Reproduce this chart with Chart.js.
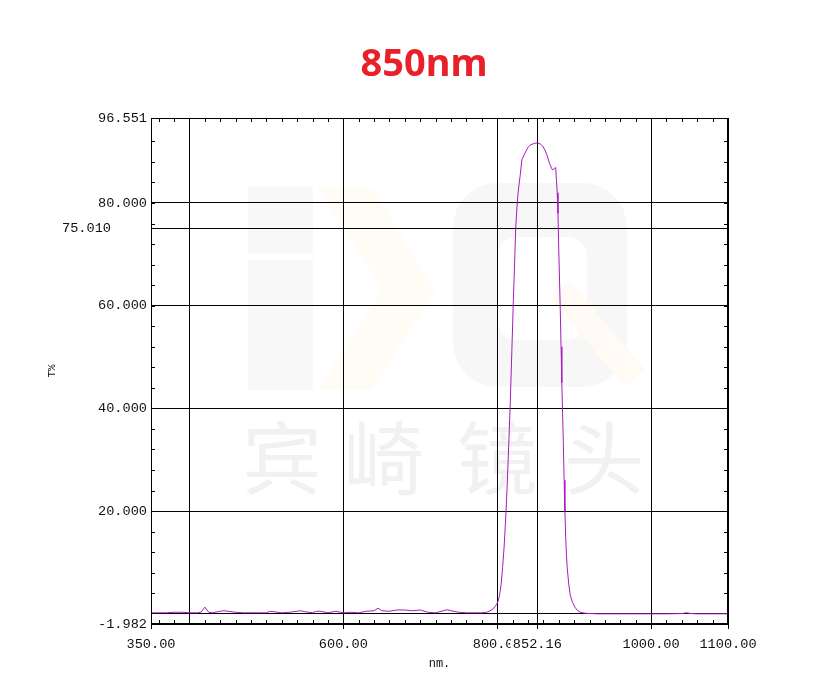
<!DOCTYPE html>
<html>
<head>
<meta charset="utf-8">
<script src="https://cdn.jsdelivr.net/npm/chart.js@4.4.1/dist/chart.umd.min.js"></script>
<style>
  html, body { margin: 0; padding: 0; background: #fff; }
  #khung { width: 828px; height: 692px; }
</style>
</head>
<body>
<div id="khung"><canvas id="bieudo"></canvas></div>
<script>
// bước sóng (nm)
const wavelengths = [
  350, 360, 370, 380, 390, 400, 410, 415, 420, 425, 430, 440, 445, 450, 460, 470, 480, 490,
  500, 505, 510, 520, 530, 540, 545, 550, 560, 565, 570, 580, 590, 600, 610, 620, 630, 640,
  645, 650, 660, 670, 680, 690, 700, 710, 720, 730, 735, 740, 750, 760, 770, 780,
  786, 790, 795, 799, 801, 803, 805, 807, 809, 811, 813, 815, 817, 819, 821, 823, 824, 826,
  828, 830, 832, 836, 840, 843, 848, 852, 856, 859, 862, 865, 868, 870, 872, 874, 876, 877,
  878, 879, 880, 881, 882, 883, 884, 885, 886, 887, 888, 889, 890, 891, 893, 895, 898, 901,
  904, 908, 915, 930, 950, 980, 1000, 1020, 1040, 1046, 1052, 1060, 1080, 1100
];
// độ truyền qua T%
const transmittance = [
  0.2, 0.2, 0.2, 0.3, 0.3, 0.2, 0.2, 0.3, 1.3, 0.3, 0.2, 0.5, 0.6, 0.5, 0.3, 0.2, 0.2, 0.2,
  0.2, 0.5, 0.4, 0.2, 0.3, 0.5, 0.6, 0.4, 0.2, 0.5, 0.5, 0.2, 0.5, 0.2, 0.3, 0.2, 0.5, 0.6,
  1.1, 0.6, 0.5, 0.75, 0.75, 0.6, 0.75, 0.3, 0.2, 0.6, 0.8, 0.6, 0.3, 0.2, 0.2, 0.2,
  0.3, 0.5, 1.0, 1.8, 2.4, 3.6, 5.6, 9, 13, 18.5, 25, 33, 41, 51, 61, 70, 75, 80,
  83.2, 85.5, 88.4, 89.7, 90.8, 91.3, 91.6, 91.7, 91.5, 91.1, 90.3, 89.2, 87.7, 87, 86.4, 86.7, 86.9, 84.5,
  82, 78, 71, 65, 59, 52, 45, 39, 33, 26, 20, 15, 11.5, 9, 5.8, 3.6, 2.2, 1.3,
  0.7, 0.3, 0.1, 0.0, 0.0, 0.0, 0.0, 0.0, 0.05, 0.2, 0.05, 0.0, 0.0, 0.0
];

// vạch chia trục
const xTicks = [350, 400, 600, 800, 852.16, 1000, 1100];
const xTickLabels = ["350.00", "", "600.00", "800.00", "852.16", "1000.00", "1100.00"];
const yTicks = [-1.982, 0, 20, 40, 60, 75.01, 80, 96.551];
const yTickLabels = ["-1.982", "", "20.000", "40.000", "60.000", "75.010", "80.000", "96.551"];

const monoFont = "'Liberation Mono', 'DejaVu Sans Mono', monospace";

// nền trắng + logo mờ phía sau
const nenMo = {
  id: "nenMo",
  beforeDraw(chart) {
    const ctx = chart.ctx;
    ctx.save();
    ctx.fillStyle = "#fff";
    ctx.fillRect(0, 0, chart.width, chart.height);

    ctx.fillStyle = "#f8f8f8";
    ctx.fillRect(248, 187, 65, 66);
    ctx.fillRect(248, 260, 65, 130);

    ctx.fillStyle = "#fffbf5";
    ctx.beginPath();
    ctx.moveTo(318, 188);
    ctx.lineTo(372, 188);
    ctx.lineTo(435, 290);
    ctx.lineTo(372, 390);
    ctx.lineTo(318, 390);
    ctx.lineTo(383, 290);
    ctx.closePath();
    ctx.fill();

    ctx.fillStyle = "#f7f7f7";
    ctx.beginPath();
    ctx.roundRect(453, 183, 174, 204, 45);
    ctx.fill();
    ctx.fillStyle = "#fff";
    ctx.beginPath();
    ctx.roundRect(497, 237, 90, 103, 20);
    ctx.fill();
    ctx.strokeStyle = "#fffaf3";
    ctx.lineWidth = 26;
    ctx.beginPath();
    ctx.moveTo(560, 290);
    ctx.lineTo(635, 378);
    ctx.stroke();

    ctx.fillStyle = "#f1f1f1";
    ctx.font = "80px 'Noto Sans CJK SC'";
    ctx.textAlign = "center";
    ctx.textBaseline = "middle";
    const chu = ["宾", "崎", "镜", "头"];
    const tam = [282, 384, 497, 604];
    chu.forEach((c, i) => ctx.fillText(c, tam[i], 458));
    ctx.restore();
  },
};

// khung ngoài, vạch chia nhỏ, tiêu đề và nhãn 75.010
const khungVach = {
  id: "khungVach",
  afterDraw(chart) {
    const { ctx, chartArea: a, scales } = chart;
    const x = scales.x, y = scales.y;
    ctx.save();
    ctx.strokeStyle = "#000";
    ctx.lineWidth = 1;
    ctx.strokeRect(a.left + 0.5, a.top + 0.5, a.right - a.left - 1, a.bottom - a.top - 1);
    ctx.beginPath();
    for (let v = 360; v < 1100; v += 20) {
      const px = Math.round(x.getPixelForValue(v)) + 0.5;
      ctx.moveTo(px, a.top);
      ctx.lineTo(px, a.top + 4);
      ctx.moveTo(px, a.bottom);
      ctx.lineTo(px, a.bottom - 4);
    }
    for (let v = 4; v < 96; v += 4) {
      const py = Math.round(y.getPixelForValue(v)) + 0.5;
      ctx.moveTo(a.left, py);
      ctx.lineTo(a.left + 4, py);
      ctx.moveTo(a.right, py);
      ctx.lineTo(a.right - 4, py);
    }
    ctx.stroke();

    ctx.fillStyle = "#111";
    ctx.font = "13.6px " + monoFont;
    ctx.textAlign = "left";
    ctx.textBaseline = "middle";
    ctx.fillText("75.010", 62, y.getPixelForValue(75.01));

    ctx.fillStyle = "#e8202a";
    ctx.font = "bold 38px 'Noto Sans', 'Liberation Sans', sans-serif";
    ctx.textAlign = "center";
    ctx.fillText("850nm", 424, 65);
    ctx.restore();
  },
};

const ctx1 = document.getElementById("bieudo");

new Chart(ctx1, {
  type: "line",
  data: {
    datasets: [
      {
        data: wavelengths.map((w, i) => ({ x: w, y: transmittance[i] })),
        borderColor: "#a81cbc",
        borderWidth: 1,
        pointRadius: 0,
        tension: 0,
      },
    ],
  },
  options: {
    responsive: true,
    maintainAspectRatio: false,
    animation: false,
    layout: { padding: { left: 0, right: 100, top: 118, bottom: 0 } },
    scales: {
      x: {
        type: "linear",
        min: 350,
        max: 1100,
        afterBuildTicks: (scale) => {
          scale.ticks = xTicks.map((v) => ({ value: v }));
        },
        afterFit: (scale) => {
          scale.height = 68;
        },
        ticks: {
          autoSkip: false,
          maxRotation: 0,
          padding: 7,
          color: "#111",
          font: { family: monoFont, size: 13.6 },
          showLabelBackdrop: true,
          backdropColor: "#fff",
          backdropPadding: { left: 2, right: 0, top: 0, bottom: 0 },
          callback: (value, index) => xTickLabels[index],
        },
        grid: {
          color: "#000",
          lineWidth: 1,
          drawTicks: true,
          tickLength: 5,
          tickColor: (c) => (c.tick && c.tick.value === 400 ? "rgba(0,0,0,0)" : "#000"),
        },
        border: { color: "#000" },
        title: {
          display: true,
          text: "nm.",
          color: "#111",
          font: { family: monoFont, size: 12 },
          padding: { top: 0, bottom: 21 },
        },
      },
      y: {
        min: -1.982,
        max: 96.551,
        afterBuildTicks: (scale) => {
          scale.ticks = yTicks.map((v) => ({ value: v }));
        },
        afterFit: (scale) => {
          scale.width = 151;
        },
        ticks: {
          autoSkip: false,
          padding: 4,
          color: "#111",
          font: { family: monoFont, size: 13.6 },
          callback: (value, index) => (yTicks[index] === 75.01 ? "" : yTickLabels[index]),
        },
        grid: {
          color: "#000",
          lineWidth: 1,
          drawTicks: false,
        },
        border: { color: "#000" },
        title: {
          display: true,
          text: "T%",
          color: "#111",
          font: { family: monoFont, size: 11 },
          padding: { top: 45, bottom: 0 },
        },
      },
    },
    plugins: {
      legend: { display: false },
      tooltip: { enabled: false },
      title: { display: false },
    },
  },
  plugins: [nenMo, khungVach],
});
</script>
</body>
</html>
